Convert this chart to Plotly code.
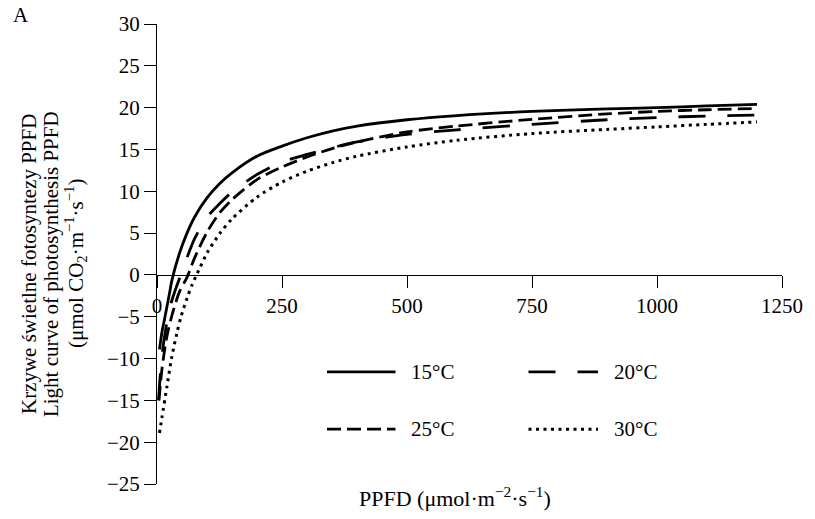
import plotly.graph_objects as go

# ---- data ----
ppfd_15 = [5, 10, 15, 25, 30, 45, 60, 75, 100, 125, 150, 200, 250, 300, 350, 400, 500, 600, 750, 900, 1000, 1100, 1200]
pn_15 = [-8.9, -6.8, -5.3, -2.2, -0.6, 2.6, 5.0, 6.9, 9.2, 10.9, 12.2, 14.2, 15.4, 16.4, 17.2, 17.8, 18.55, 19.05, 19.55, 19.85, 20.0, 20.2, 20.4]

ppfd_20 = [3, 10, 20, 30, 50, 75, 100, 125, 150, 200, 250, 300, 350, 400, 500, 600, 750, 900, 1000, 1100, 1200]
pn_20 = [-15.0, -9.6, -5.6, -3.0, 0.4, 4.3, 6.9, 8.5, 9.9, 12.0, 13.5, 14.4, 15.2, 15.9, 16.8, 17.35, 18.0, 18.55, 18.8, 19.0, 19.1]

ppfd_25 = [4, 10, 20, 30, 45, 60, 75, 100, 125, 150, 200, 250, 300, 350, 400, 500, 600, 750, 900, 1000, 1100, 1200]
pn_25 = [-15.0, -11.2, -7.3, -4.8, -2.0, -0.3, 2.0, 5.1, 7.4, 9.0, 11.4, 12.9, 14.1, 15.1, 15.9, 17.1, 17.8, 18.6, 19.25, 19.55, 19.75, 19.9]

ppfd_30 = [5, 10, 20, 29, 40, 48, 60, 70, 80, 100, 125, 150, 200, 250, 300, 350, 400, 500, 600, 750, 900, 1000, 1100, 1200]
pn_30 = [-18.9, -17.0, -13.3, -10.0, -6.9, -5.0, -2.8, -1.2, 0.1, 2.6, 4.9, 6.7, 9.3, 11.1, 12.4, 13.4, 14.2, 15.3, 16.1, 16.9, 17.4, 17.7, 18.0, 18.3]

series_names = ["15°C", "20°C", "25°C", "30°C"]
x_ticks = [0, 250, 500, 750, 1000, 1250]
y_ticks = [-25, -20, -15, -10, -5, 0, 5, 10, 15, 20, 25, 30]

# ---- styles ----
FONT = "Liberation Serif"
FS = 21
FS_TITLE = 21
dashes = ["solid", "27px,22px", "14px,6px", "3px,4.5px"]
widths = [2.8, 2.8, 2.8, 3.0]

fig = go.Figure()
data = [(ppfd_15, pn_15), (ppfd_20, pn_20), (ppfd_25, pn_25), (ppfd_30, pn_30)]
for (xs, ys), name, d, w in zip(data, series_names, dashes, widths):
    fig.add_trace(go.Scatter(x=xs, y=ys, mode="lines", name=name,
                             line=dict(color="black", width=w, dash=d, shape="spline", smoothing=0.8),
                             showlegend=False, hoverinfo="skip"))

# ---- manual legend (layout decoration) ----
leg_rows = [-11.6, -18.45]
leg_cols = [(340, 477, 503), (743, 882, 910)]
order = [(0, 0, 0), (1, 0, 1), (2, 1, 0), (3, 1, 1)]
for idx, r, c in order:
    x0, x1, xt = leg_cols[c]
    fig.add_shape(type="line", xref="x", yref="y", x0=x0, x1=x1, y0=leg_rows[r], y1=leg_rows[r],
                  line=dict(color="black", width=widths[idx], dash=dashes[idx]))
    fig.add_annotation(x=xt, y=leg_rows[r], xref="x", yref="y", text=series_names[idx],
                       showarrow=False, xanchor="left", yanchor="middle",
                       font=dict(family=FONT, size=FS, color="black"))

# y-axis title lines
ytitle = ["Krzywe świetlne fotosyntezy PPFD",
          "Light curve of photosynthesis PPFD",
          "(μmol CO<sub>2</sub>·m<sup>−1</sup>·s<sup>−1</sup>)"]
for t, xs in zip(ytitle, [-128, -106, -82]):
    fig.add_annotation(x=0, y=1.3, xref="paper", yref="y", text=t, textangle=-90,
                       showarrow=False, xanchor="center", yanchor="middle", xshift=xs,
                       font=dict(family=FONT, size=FS_TITLE, color="black"))

# x-axis title
fig.add_annotation(x=0.477, y=-0.028, xref="paper", yref="paper",
                   text="PPFD (μmol·m<sup>−2</sup>·s<sup>−1</sup>)", showarrow=False,
                   xanchor="center", yanchor="middle", font=dict(family=FONT, size=22, color="black"))

# panel label
fig.add_annotation(x=-0.218, y=1.02, xref="paper", yref="paper", text="A", showarrow=False,
                   xanchor="center", yanchor="middle", font=dict(family=FONT, size=FS, color="black"))

fig.update_layout(
    width=815, height=519,
    margin=dict(l=157, r=29, t=24, b=35),
    paper_bgcolor="white", plot_bgcolor="white",
    font=dict(family=FONT, size=FS, color="black"),
    xaxis=dict(range=[0, 1250], tickvals=x_ticks, showgrid=False, zeroline=False,
               showline=True, linecolor="black", linewidth=1, ticks="outside", ticklen=12,
               tickcolor="black", anchor="free", position=25 / 55,
               tickfont=dict(family=FONT, size=FS, color="black")),
    yaxis=dict(range=[-25, 30], tickvals=y_ticks, showgrid=False, zeroline=False,
               showline=True, linecolor="black", linewidth=1, ticks="outside", ticklen=12,
               tickcolor="black", tickfont=dict(family=FONT, size=FS, color="black")),
)

fig.write_html("out.html")
